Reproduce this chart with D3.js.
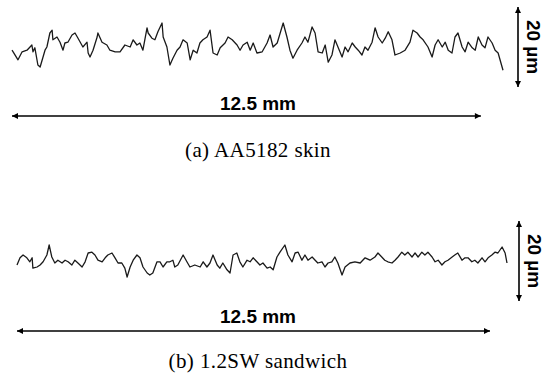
<!DOCTYPE html>
<html>
<head>
<meta charset="utf-8">
<script src="https://cdn.jsdelivr.net/npm/d3@7"></script>
<style>
  body { margin: 0; background: #fff; }
</style>
</head>
<body>
<svg id="chart" width="545" height="374"></svg>
<script>
// surface profile of the AA5182 skin: distance along the scan (mm), height (µm)
const skinPos = [0.00, 0.03, 0.16, 0.27, 0.40, 0.53, 0.56, 0.61, 0.69, 0.75, 0.88, 0.93, 1.01, 1.07, 1.09, 1.20, 1.28, 1.36, 1.41, 1.49,
  1.60, 1.68, 1.76, 1.89, 2.00, 2.03, 2.08, 2.16, 2.27, 2.29, 2.40, 2.53, 2.61, 2.75, 2.88, 3.01, 3.15, 3.23, 3.33, 3.41,
  3.49, 3.60, 3.63, 3.73, 3.81, 3.89, 4.00, 4.03, 4.13, 4.21, 4.29, 4.40, 4.48, 4.56, 4.67, 4.75, 4.83, 4.93, 5.01, 5.09,
  5.20, 5.28, 5.36, 5.47, 5.55, 5.68, 5.76, 5.87, 6.00, 6.08, 6.16, 6.27, 6.35, 6.43, 6.53, 6.67, 6.80, 6.88, 6.96, 7.07,
  7.15, 7.23, 7.33, 7.41, 7.49, 7.60, 7.73, 7.81, 7.89, 8.00, 8.08, 8.16, 8.27, 8.35, 8.43, 8.53, 8.61, 8.69, 8.80, 8.88,
  8.96, 9.07, 9.15, 9.23, 9.33, 9.41, 9.49, 9.60, 9.68, 9.76, 9.87, 9.95, 10.03, 10.13, 10.21, 10.35, 10.48, 10.61, 10.69, 10.80,
  10.88, 10.96, 11.09, 11.20, 11.28, 11.36, 11.47, 11.55, 11.63, 11.73, 11.81, 11.89, 12.00, 12.08, 12.16, 12.27, 12.35, 12.43, 12.53, 12.61,
  12.69, 12.80, 12.88, 12.96, 13.09];
const skinHeight = [-0.8, -1.2, -3.2, -1.2, -0.8, 0.5, -1.2, -0.2, -4.5, -5.0, -0.8, 0.0, 3.5, 4.2, 1.8, 2.5, 1.2, -0.8, 1.0, 1.2,
  3.0, 3.5, 2.2, 0.0, 1.2, -1.5, -2.5, -0.8, 2.5, 3.5, 1.2, 0.5, -0.8, -1.2, -1.2, 0.5, 0.0, 1.8, 0.5, 1.0,
  -0.8, 4.8, 3.5, 2.2, 1.8, 3.8, 6.0, 2.5, 0.0, -4.5, -2.8, -0.8, 0.0, 1.8, 1.0, -3.2, -0.8, -1.5, 1.0, 1.8,
  2.5, 4.2, -1.5, -2.0, -0.2, 1.0, 2.5, 1.8, 0.5, -0.8, 0.5, 1.2, -0.8, 1.0, -1.5, -1.2, 1.0, 3.0, 0.0, 1.0,
  3.5, 6.0, 2.5, -0.8, -2.8, -0.8, 1.0, 2.5, 1.2, 5.0, 3.5, -1.2, -1.5, 0.5, -3.8, -2.0, 1.8, 0.0, -2.5, 0.0,
  -1.2, 1.0, 0.0, -0.8, -2.0, 0.0, -0.8, 1.2, 4.8, 2.5, 1.0, 2.2, 3.8, 1.8, -2.0, -1.5, -0.8, 1.2, 4.2, 3.5,
  2.5, 1.8, 0.0, -2.5, 0.5, 1.8, 0.0, 1.2, -0.8, -1.5, 2.5, 3.5, 0.0, -1.2, 1.2, -0.2, -0.8, 2.5, 0.5, -0.2,
  2.5, 1.0, -0.8, -1.5, -5.8];

// surface profile of the 1.2SW sandwich
const sandwichPos = [0.00, 0.08, 0.16, 0.26, 0.34, 0.40, 0.42, 0.53, 0.61, 0.69, 0.79, 0.85, 0.92, 1.00, 1.08, 1.19, 1.27, 1.35, 1.45, 1.53,
  1.61, 1.72, 1.80, 1.88, 1.98, 2.06, 2.14, 2.25, 2.33, 2.40, 2.51, 2.59, 2.67, 2.77, 2.85, 2.91, 2.99, 3.07, 3.17, 3.25,
  3.33, 3.44, 3.51, 3.59, 3.70, 3.78, 3.86, 3.96, 4.04, 4.12, 4.17, 4.25, 4.39, 4.49, 4.57, 4.70, 4.84, 4.92, 5.02, 5.10,
  5.18, 5.29, 5.36, 5.44, 5.55, 5.63, 5.71, 5.81, 5.89, 5.97, 6.08, 6.16, 6.24, 6.34, 6.42, 6.50, 6.61, 6.69, 6.77, 6.87,
  6.95, 7.08, 7.16, 7.27, 7.35, 7.43, 7.53, 7.61, 7.69, 7.80, 7.88, 7.95, 8.06, 8.14, 8.22, 8.32, 8.40, 8.48, 8.59, 8.67,
  8.80, 8.93, 9.07, 9.20, 9.33, 9.46, 9.54, 9.64, 9.72, 9.80, 9.91, 9.99, 10.07, 10.17, 10.25, 10.33, 10.44, 10.52, 10.60, 10.70,
  10.78, 10.86, 10.97, 11.05, 11.13, 11.23, 11.31, 11.39, 11.50, 11.57, 11.65, 11.76, 11.84, 11.92, 12.02, 12.10, 12.18, 12.29, 12.37, 12.45,
  12.55, 12.63, 12.71, 12.82, 12.90, 12.95];
const sandwichHeight = [-1.0, 0.8, 1.5, 0.8, -0.2, 0.8, -1.8, -1.5, -1.0, -0.2, 1.5, 4.0, 1.0, -0.5, 0.2, -0.5, 0.2, -0.2, -1.0, 0.2,
  -0.5, -1.5, -0.2, 2.0, 2.2, 1.5, 0.2, -0.2, 0.8, 1.5, 2.0, 0.8, -0.5, -0.5, -1.8, -4.0, -1.5, 0.2, 1.5, 0.8,
  -1.5, -3.0, -3.5, -3.0, -0.2, -0.2, -1.5, -0.2, -0.2, 0.2, -1.5, -1.0, 1.5, -0.2, -1.5, -1.0, -1.5, -0.2, -1.5, -0.5,
  1.5, -1.0, -1.8, -0.5, -2.2, -3.0, 1.5, 2.0, -0.2, -1.5, 0.2, -0.2, 0.8, -0.2, -1.0, -0.5, -1.8, -1.5, -2.2, 1.0,
  2.2, 4.0, 1.5, -0.2, 2.0, 2.2, 0.2, 1.5, 0.2, 1.0, 0.2, -0.5, -0.2, -1.5, -0.5, -0.2, 1.0, -0.5, -3.5, -1.5,
  -0.5, -0.2, -0.5, 0.8, 0.2, 1.0, 2.0, 1.0, 0.2, -0.2, -0.5, 0.2, 1.0, 2.2, 1.5, 2.2, 1.0, 2.0, 1.0, 2.2,
  1.5, 2.2, 1.0, -0.2, 0.2, -1.0, -0.2, 0.2, 1.0, 1.5, 2.0, 0.2, 0.8, 0.8, -0.2, 0.2, -0.5, 0.8, -0.2, 0.8,
  1.5, 2.2, 2.0, 3.5, 2.0, -0.5];

const lengthBar = 12.5;   // mm
const heightBar = [-10, 10]; // µm, the 20 µm bar
const lengthLabel = "12.5 mm";
const heightLabel = "20 µm";
const captions = ["(a) AA5182 skin", "(b) 1.2SW sandwich"];

const svg = d3.select("#chart");

// arrow heads
const defs = svg.append("defs");
defs.append("marker")
  .attr("id", "head")
  .attr("viewBox", "0 0 10 10")
  .attr("refX", 10).attr("refY", 5)
  .attr("markerWidth", 7).attr("markerHeight", 6)
  .attr("markerUnits", "userSpaceOnUse")
  .attr("orient", "auto-start-reverse")
  .append("path")
  .attr("d", "M0,0 L10,5 L0,10 z")
  .attr("fill", "#000");

const panels = [
  { pos: skinPos, h: skinHeight, x0: 12, x1: 503, y0: 87, y1: 7, barX: 518, arrowY: 116, labelY: 110, captionY: 157, caption: captions[0] },
  { pos: sandwichPos, h: sandwichHeight, x0: 17, x1: 507, y0: 301, y1: 221, barX: 519, arrowY: 331, labelY: 323, captionY: 368, caption: captions[1] }
];

panels.forEach(p => {
  const g = svg.append("g");

  const x = d3.scaleLinear()
    .domain([0, p.pos[p.pos.length - 1]])
    .range([p.x0, p.x1]);
  const y = d3.scaleLinear()
    .domain(heightBar)
    .range([p.y0, p.y1]);

  const line = d3.line()
    .x((d, i) => x(p.pos[i]))
    .y(d => y(d));

  // profile trace
  g.append("path")
    .datum(p.h)
    .attr("d", line)
    .attr("fill", "none")
    .attr("stroke", "#1a1a1a")
    .attr("stroke-width", 1.3)
    .attr("stroke-linejoin", "round");

  // 20 µm bar
  g.append("line")
    .attr("x1", p.barX).attr("x2", p.barX)
    .attr("y1", y(heightBar[0])).attr("y2", y(heightBar[1]))
    .attr("stroke", "#000")
    .attr("stroke-width", 1.6)
    .attr("marker-start", "url(#head)")
    .attr("marker-end", "url(#head)");

  g.append("text")
    .attr("transform", `translate(${p.barX + 9},${y(0)}) rotate(90)`)
    .attr("text-anchor", "middle")
    .style("font-family", "'Liberation Sans', Arial, sans-serif")
    .style("font-weight", "bold")
    .style("font-size", "19px")
    .text(heightLabel);

  // 12.5 mm bar
  g.append("line")
    .attr("x1", x(0)).attr("x2", x(lengthBar))
    .attr("y1", p.arrowY).attr("y2", p.arrowY)
    .attr("stroke", "#000")
    .attr("stroke-width", 1.6)
    .attr("marker-start", "url(#head)")
    .attr("marker-end", "url(#head)");

  g.append("text")
    .attr("x", 258)
    .attr("y", p.labelY)
    .attr("text-anchor", "middle")
    .style("font-family", "'Liberation Sans', Arial, sans-serif")
    .style("font-weight", "bold")
    .style("font-size", "19px")
    .text(lengthLabel);

  g.append("text")
    .attr("x", 258)
    .attr("y", p.captionY)
    .attr("text-anchor", "middle")
    .style("font-family", "'Liberation Serif', 'Times New Roman', serif")
    .style("font-size", "21px")
    .style("letter-spacing", "0.4px")
    .text(p.caption);
});
</script>
</body>
</html>
